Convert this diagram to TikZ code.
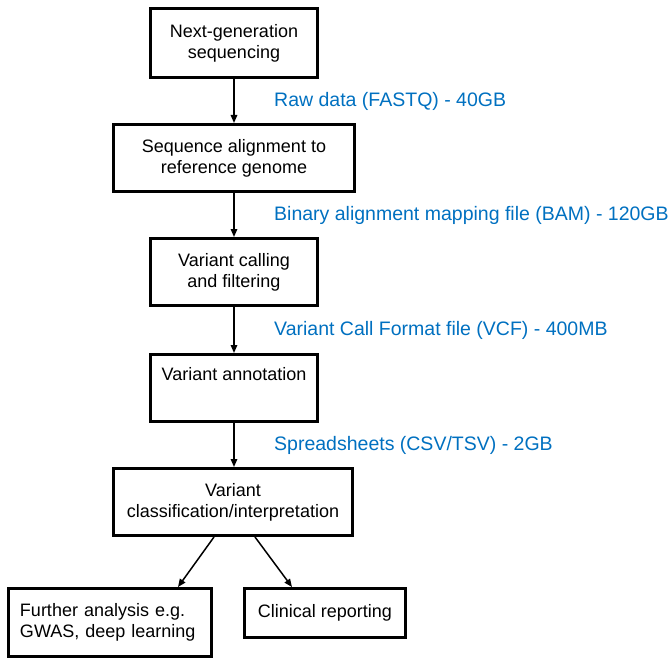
\documentclass[tikz,border=0pt]{standalone}
\usepackage{fontspec}
\setmainfont{Liberation Sans}
\usetikzlibrary{arrows.meta}
\definecolor{labelblue}{HTML}{0070C0}
\tikzset{
  stagebox/.style={draw=black, line width=3bp, align=center, inner sep=0pt,
    font=\fontsize{18bp}{21bp}\selectfont},
  flowarrow/.style={line width=1.5bp, -{Triangle[length=8bp,width=6.5bp]}},
  datalabel/.style={anchor=west, inner sep=0pt, text=labelblue,
    font=\fontsize{19.5bp}{23bp}\selectfont}
}
\begin{document}
\begin{tikzpicture}[x=1bp,y=-1bp]
\path[use as bounding box] (0,0) rectangle (671,659);

\node[stagebox, minimum width=167bp, minimum height=69bp] (ngs) at (234,43) {Next-generation\\sequencing};
\node[stagebox, minimum width=241bp, minimum height=67bp] (align) at (234,158) {Sequence alignment to\\reference genome};
\node[stagebox, minimum width=167bp, minimum height=67bp] (call) at (234,272) {Variant calling\\and filtering};
\node[stagebox, minimum width=167bp, minimum height=67bp] (annot) at (234,388) {Variant annotation\\\strut};
\node[stagebox, minimum width=239bp, minimum height=67bp] (classif) at (233,502) {Variant\\classification/interpretation};
\node[stagebox, align=left, text width=180bp, inner xsep=11.5bp, minimum height=68bp] (further) at (110,622.5) {Further analysis e.g.\\GWAS, deep learning};
\node[stagebox, minimum width=161bp, minimum height=49bp] (clinical) at (325,613) {Clinical reporting};

\node[datalabel] (lraw) at (274,101) {Raw data (FASTQ) - 40GB};
\node[datalabel] (lbam) at (274,215) {Binary alignment mapping file (BAM) - 120GB};
\node[datalabel] (lvcf) at (274,330) {Variant Call Format file (VCF) - 400MB};
\node[datalabel] (lcsv) at (274,445) {Spreadsheets (CSV/TSV) - 2GB};

\draw[flowarrow] (ngs) -- (align);
\draw[flowarrow] (align) -- (call);
\draw[flowarrow] (call) -- (annot);
\draw[flowarrow] (annot) -- (classif.north -| annot.south);
\draw[flowarrow] ([xshift=-19bp]classif.south) -- ([xshift=68bp]further.north);
\draw[flowarrow] ([xshift=22bp]classif.south) -- ([xshift=-33bp]clinical.north);
\end{tikzpicture}
\end{document}
